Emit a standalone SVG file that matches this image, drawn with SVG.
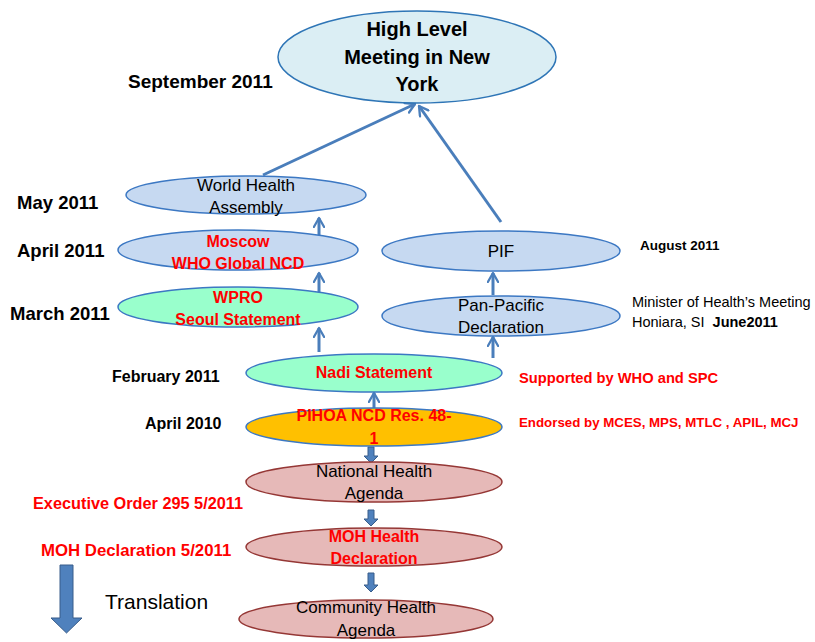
<svg xmlns="http://www.w3.org/2000/svg" width="815" height="642" viewBox="0 0 815 642">
<defs>
<marker id="chev" viewBox="0 0 10 10" refX="8" refY="5" markerWidth="4.3" markerHeight="4.3" orient="auto" markerUnits="strokeWidth">
<path d="M1,1 L8,5 L1,9" fill="none" stroke="#4a7ebb" stroke-width="1.8" stroke-linecap="round" stroke-linejoin="round"/>
</marker>
</defs>
<style>
text{font-family:"Liberation Sans",Arial,sans-serif;}
.b{font-weight:bold;}
.c{text-anchor:middle;}
.red{fill:#ff0000;}
.blue{fill:#c6d9f1;stroke:#3c78c3;stroke-width:1.5;}
.mint{fill:#99ffcc;stroke:#3c78c3;stroke-width:1.5;}
.orange{fill:#ffc000;stroke:#3c78c3;stroke-width:1.5;}
.pink{fill:#e6b9b8;stroke:#953735;stroke-width:1.5;}
.top{fill:#dbeef4;stroke:#2e75b6;stroke-width:1.5;}
.ln{stroke:#4a7ebb;stroke-width:3;fill:none;marker-end:url(#chev);}
.blk{fill:#4f81bd;stroke:#385d8a;stroke-width:1;}
.n{font-size:17px;fill:#000;}
.nb{font-size:16px;font-weight:bold;fill:#ff0000;}
.dl{font-size:18.5px;font-weight:bold;}
</style>
<rect width="815" height="642" fill="#ffffff"/>

<g id="connectors">
<line class="ln" x1="263" y1="175" x2="415" y2="104"/>
<line class="ln" x1="501" y1="222" x2="419" y2="106"/>
<line class="ln" x1="319" y1="238" x2="319" y2="218"/>
<line class="ln" x1="319" y1="293" x2="319" y2="273"/>
<line class="ln" x1="319" y1="352" x2="319" y2="328"/>
<line class="ln" x1="493" y1="295" x2="493" y2="273"/>
<line class="ln" x1="493" y1="358" x2="493" y2="337"/>
<line class="ln" x1="374" y1="408" x2="374" y2="393"/>
<path class="blk" d="M368,447 H374 V456 H378 L371,463 L364,456 H368 Z"/>
<path class="blk" d="M368,510 H374 V519 H378 L371,526 L364,519 H368 Z"/>
<path class="blk" d="M368,573 H374 V585 H378 L371,592 L364,585 H368 Z"/>
</g>

<g id="hlm">
<ellipse class="top" cx="417" cy="57" rx="139" ry="46"/>
<text class="b c" x="417" y="36" font-size="20">High Level</text>
<text class="b c" x="417" y="64" font-size="20">Meeting in New</text>
<text class="b c" x="417" y="91" font-size="20">York</text>
</g>
<g id="wha">
<ellipse class="blue" cx="246" cy="195" rx="120" ry="19"/>
<text class="n c" x="246" y="191">World Health</text>
<text class="n c" x="246" y="213">Assembly</text>
</g>
<g id="moscow">
<ellipse class="blue" cx="238" cy="250" rx="120" ry="20"/>
<text class="nb c" x="238" y="247">Moscow</text>
<text class="nb c" x="238" y="269">WHO Global NCD</text>
</g>
<g id="wpro">
<ellipse class="mint" cx="238" cy="307" rx="120" ry="20"/>
<text class="nb c" x="238" y="303">WPRO</text>
<text class="nb c" x="238" y="325">Seoul Statement</text>
</g>
<g id="pif">
<ellipse class="blue" cx="501" cy="251" rx="119" ry="20"/>
<text class="n c" x="501" y="257">PIF</text>
</g>
<g id="panpacific">
<ellipse class="blue" cx="501" cy="316" rx="119" ry="20"/>
<text class="n c" x="501" y="311">Pan-Pacific</text>
<text class="n c" x="501" y="333">Declaration</text>
</g>
<g id="nadi">
<ellipse class="mint" cx="374" cy="373" rx="128" ry="19"/>
<text class="nb c" x="374" y="378">Nadi Statement</text>
</g>
<g id="pihoa">
<ellipse class="orange" cx="374" cy="427" rx="128" ry="19"/>
<text class="nb c" x="374" y="421">PIHOA NCD Res. 48-</text>
<text class="nb c" x="374" y="444">1</text>
</g>
<g id="national">
<ellipse class="pink" cx="374" cy="482" rx="128" ry="20"/>
<text class="n c" x="374" y="477">National Health</text>
<text class="n c" x="374" y="499">Agenda</text>
</g>
<g id="mohdecl">
<ellipse class="pink" cx="374" cy="547" rx="128" ry="19"/>
<text class="nb c" x="374" y="542">MOH Health</text>
<text class="nb c" x="374" y="564">Declaration</text>
</g>
<g id="community">
<ellipse class="pink" cx="366" cy="619" rx="127" ry="19"/>
<text class="n c" x="366" y="613">Community Health</text>
<text class="n c" x="366" y="636">Agenda</text>
</g>

<g id="labels">
<text class="b" x="128" y="88" font-size="19">September 2011</text>
<text class="dl" x="17" y="209">May 2011</text>
<text class="dl" x="17" y="257">April 2011</text>
<text class="dl" x="10" y="320">March 2011</text>
<text class="b" x="112" y="382" font-size="16">February 2011</text>
<text class="b" x="145" y="429" font-size="16">April 2010</text>
<text class="b" x="640" y="250" font-size="13.5">August 2011</text>
<text x="632" y="307" font-size="14.5">Minister of Health’s Meeting</text>
<text x="632" y="327" font-size="14.5">Honiara, SI  <tspan font-weight="bold" dx="4">June2011</tspan></text>
<text class="b red" x="519" y="383" font-size="14.7">Supported by WHO and SPC</text>
<text class="b red" x="519" y="427" font-size="13.3">Endorsed by MCES, MPS, MTLC , APIL, MCJ</text>
<text class="b red" x="33" y="509" font-size="16.3">Executive Order 295 5/2011</text>
<text class="b red" x="41" y="556" font-size="16.8">MOH Declaration 5/2011</text>
<text x="105" y="609" font-size="21">Translation</text>
</g>
<g id="translation-arrow">
<path class="blk" d="M60,565 H73 V618 H82 L66.5,633 L51,618 H60 Z" stroke-width="1.5"/>
</g>
</svg>
